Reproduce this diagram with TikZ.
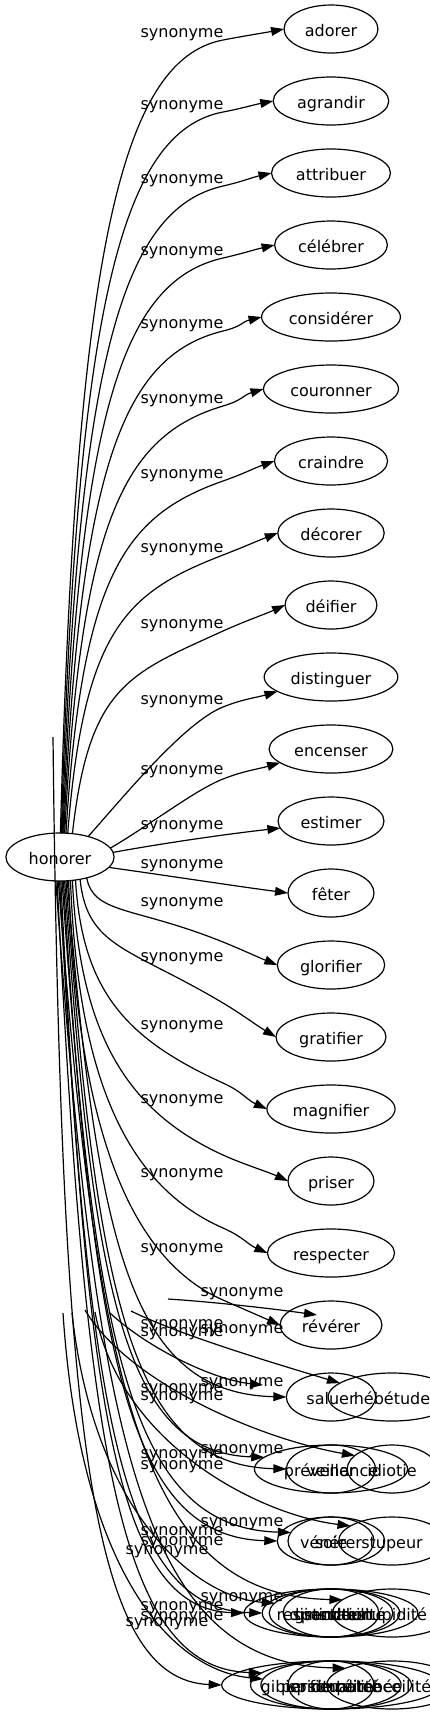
\documentclass[tikz,border=0pt]{standalone}
\usepackage{fontspec}
\setmainfont{DejaVu Sans}
\usetikzlibrary{arrows.meta,shapes.geometric}

\begin{document}
\begin{tikzpicture}[x=0.5pt, y=-0.5pt,
    word/.style={ellipse, draw, line width=0.6pt, inner xsep=3.5pt, inner ysep=1pt,
        minimum width=43pt, minimum height=24pt, outer sep=0pt,
        font=\fontsize{8}{10}\selectfont, text height=7pt, text depth=0pt},
    syn/.style={inner sep=0pt, font=\fontsize{8}{10}\selectfont,
        text height=5.9pt, text depth=2.9pt},
    rel/.style={line width=0.6pt, -{Triangle[length=6.5pt,width=4.4pt]}}]

    \useasboundingbox (0,0) rectangle (429,1715);

    % mot de départ
    \node[word] (honorer) at (60,857) {honorer};

    % une ligne par synonyme (pas de 72)
    \foreach \name/\txt [count=\i from 0] in {adorer/adorer, agrandir/agrandir,
        attribuer/attribuer, celebrer/célébrer, considerer/considérer,
        couronner/couronner, craindre/craindre, decorer/décorer, deifier/déifier,
        distinguer/distinguer, encenser/encenser, estimer/estimer, feter/fêter,
        glorifier/glorifier, gratifier/gratifier, magnifier/magnifier,
        priser/priser, respecter/respecter, reverer/révérer}
        \node[word] (\name) at (331,{29+72*\i}) {\txt};

    % nœuds superposés en bas
    \node[word] (saluer)       at (331,1397) {saluer};
    \node[word] (hebetude)     at (392,1397) {hébétude};
    \node[word] (prevenance)   at (331,1469) {prévenance};
    \node[word] (veiller)      at (331,1469) {veiller};
    \node[word] (idiotie)      at (392,1469) {idiotie};
    \node[word] (venerer)      at (331,1541) {vénérer};
    \node[word] (soie)         at (331,1541) {soie};
    \node[word] (stupeur)      at (392,1541) {stupeur};
    \node[word] (respectab)    at (331,1613) {respectabilité};
    \node[word] (distinction)  at (331,1613) {distinction};
    \node[word] (grandeur)     at (331,1613) {grandeur};
    \node[word] (insulte)      at (331,1613) {insulte};
    \node[word] (stupidite)    at (392,1613) {stupidité};
    \node[word] (gibier)       at (331,1685) {gibier de potence};
    \node[word] (personnalite) at (331,1685) {personnalité};
    \node[word] (fierte)       at (331,1685) {fierté};
    \node[word] (spiritualite) at (331,1685) {spiritualité};
    \node[word] (imbecilite)   at (392,1685) {imbécilité};

    % arêtes vers le haut : montée verticale puis virage sous l'étiquette
    \foreach \tgt/\ang/\sx/\yt/\yl in {adorer/89/60/29/34,
        agrandir/87/61/101/106, attribuer/85/62/173/180,
        celebrer/83/63/245/252, considerer/81/64/317/325,
        couronner/79/65/389/400, craindre/76/66/461/475,
        decorer/72/68/533/549, deifier/62/73/605/625}
    {
        \pgfmathsetmacro{\sl}{(\yl+6-\yt)/57}
        \draw[rel] (honorer.\ang)
            .. controls ({\sx+16},{\yl+6+0.27*(827-\yl)}) and ({\sx+0.37*(223-\sx)},{\yl+6+\sl*0.63*(223-\sx)})
            .. (223,{\yl+6})
            .. controls +(20,{-20*\sl}) and +(-20,{20*\sl}) .. (\tgt.west);
        \node[syn] (l-\tgt) at (182,\yl) {synonyme};
    }

    % arêtes presque droites autour du mot de départ
    \draw[rel] (honorer.36) .. controls (125,795) and (185,722) .. (223,707)
        .. controls +(20,-8) and +(-20,6) .. (distinguer.195);
    \node[syn] (l-distinguer) at (182,701) {synonyme};
    \draw[rel] (honorer.10) .. controls (150,825) and (195,790) .. (223,779)
        .. controls +(20,-8) and +(-20,6) .. (encenser.195);
    \node[syn] (l-encenser) at (182,771) {synonyme};
    \draw[rel] (honorer.5) .. controls (170,842) and (235,833) .. (estimer.188);
    \node[syn] (l-estimer) at (182,826) {synonyme};
    \draw[rel] (honorer.348) .. controls (170,876) and (235,886) .. (feter.west);
    \node[syn] (l-feter) at (182,865) {synonyme};

    % arêtes vers le bas
    \foreach \tgt/\ang/\sx/\yt/\yl/\yv in {glorifier/322/87/965/903/942,
        gratifier/312/80/1037/958/1003, magnifier/304/75/1109/1026/1083,
        priser/298/72/1181/1100/1155, respecter/294/70/1253/1174/1228,
        reverer/290/69/1325/1249/1300}
    {
        \pgfmathsetmacro{\sl}{(\yt-\yv)/57}
        \draw[rel] (honorer.\ang)
            .. controls ({\sx+0.05*(223-\sx)},{881+0.55*(\yv-881)}) and ({\sx+0.35*(223-\sx)},{\yv-\sl*0.65*(223-\sx)})
            .. (223,\yv)
            .. controls +(20,{20*\sl}) and +(-20,{-20*\sl}) .. (\tgt.west);
        \node[syn] (l-\tgt) at (182,\yl) {synonyme};
    }

    % longues arêtes qui descendent jusqu'aux nœuds superposés
    \foreach \tgt/\ang/\sx/\tx/\ty in {saluer.west/287/67/286/1397,
        veiller.west/284/66/286/1469, prevenance.170/281/65/264/1457,
        venerer.west/278/63/277/1541, soie.168/275/62/291/1532,
        respectab.west/272/61/244/1613, distinction.west/269/59/262/1613,
        stupidite.165/266/58/342/1600, personnalite.170/263/57/261/1673,
        imbecilite.160/260/56/346/1668}
        \draw[rel] (honorer.\ang)
            .. controls ({\sx+0.14*(\tx-\sx)},{881+0.72*(\ty-881)}) and ({\sx+0.3*(\tx-\sx)},{\ty-4})
            .. (\tgt);

    % arêtes sans origine visible
    \coordinate (tA) at (168,1299);
    \coordinate (tB) at (131,1311);
    \coordinate (tC) at (110,1313);
    \coordinate (tD) at (85,1310);
    \coordinate (tE) at (95,1312);
    \coordinate (tF) at (72,1313);
    \coordinate (tG) at (63,1313);
    \coordinate (tH) at (53,737);
    \coordinate (hA) at (317,1315);
    \coordinate (hB) at (263,1385);

    \draw[rel] (tA) .. controls (215,1302) and (275,1309) .. (hA);
    \draw[rel] (tB) .. controls (180,1335) and (270,1362) .. (hebetude.165);
    \draw[rel] (tC) .. controls (150,1350) and (215,1380) .. (hB);
    \draw[rel] (tD) .. controls (130,1385) and (265,1440) .. (idiotie.160);
    \draw[rel] (tE) .. controls (120,1445) and (260,1515) .. (stupeur.160);
    \draw[rel] (tF) .. controls (95,1520) and (200,1598) .. (grandeur.170);
    \draw[rel] (tG) .. controls (80,1570) and (170,1670) .. (spiritualite.175);
    \draw[rel] (tH) .. controls (61,1446) and (92,1680) .. (gibier.west);

    % étiquettes entassées
    \foreach \lx/\ly [count=\k] in {242/1293, 182/1325, 182/1333, 242/1330,
        242/1383, 182/1389, 182/1397, 242/1450, 182/1455, 182/1466,
        242/1523, 182/1532, 182/1542, 167/1551,
        242/1598, 182/1607, 182/1617, 167/1623}
        \node[syn] (s\k) at (\lx,\ly) {synonyme};
\end{tikzpicture}
\end{document}
